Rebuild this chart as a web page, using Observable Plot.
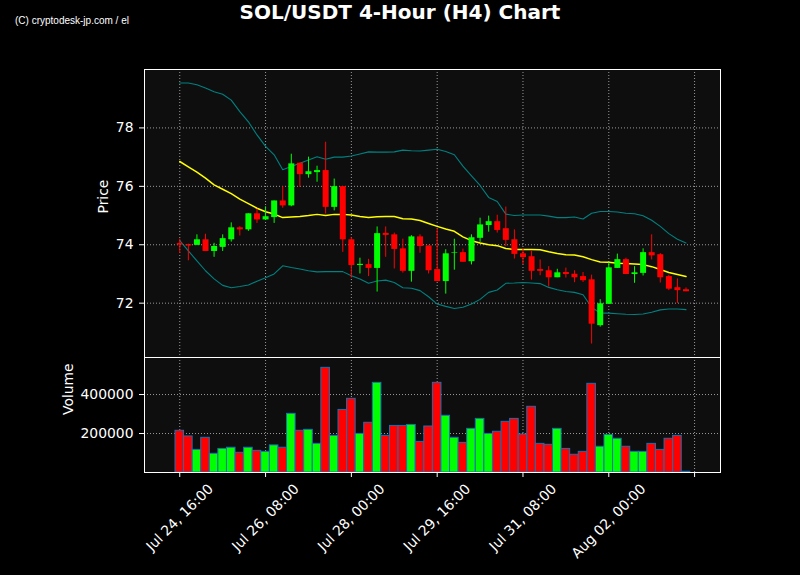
<!DOCTYPE html>
<html>
<head>
<meta charset="utf-8">
<script src="https://cdn.jsdelivr.net/npm/d3@7"></script>
<script src="https://cdn.jsdelivr.net/npm/@observablehq/plot@0.6"></script>
<style>
  html, body { margin: 0; padding: 0; background: #000; }
  #wrap { position: relative; width: 800px; height: 575px; background: #000; overflow: hidden; }
  #wrap svg { position: absolute; left: 0; }
  #title { position: absolute; left: 0; top: 1.8px; width: 800px; text-align: center; color: #fff;
           font: bold 20px/20px "DejaVu Sans", sans-serif; }
  #copy { position: absolute; left: 15px; top: 15.5px; color: #fff; font: 10px/10px "Liberation Sans", Arial, sans-serif; white-space: nowrap; }
</style>
</head>
<body>
<div id="wrap">
  <div id="copy">(C) cryptodesk-jp.com / el</div>
  <div id="title">SOL/USDT 4-Hour (H4) Chart</div>
</div>
<script>
// ---- data (4-hour candles, starting Jul 24 16:00) ----
const startTime = "2025-07-24T16:00:00Z";
const open  = [74.04, 74.00, 73.98, 74.17, 73.77, 73.91, 74.17, 74.58, 74.51, 75.06, 74.85, 74.93, 75.50, 75.33, 76.79, 76.40, 76.47, 76.54, 75.28, 75.99,
               74.17, 73.29, 73.32, 73.19, 74.39, 74.34, 73.86, 73.09, 74.27, 73.96, 73.15, 72.74, 73.71, 73.73, 73.42, 74.22, 74.66, 74.79, 74.55, 74.17,
               73.69, 73.59, 73.15, 73.11, 72.87, 73.05, 72.99, 72.91, 72.80, 71.23, 71.96, 73.19, 73.49, 72.98, 73.02, 73.73, 73.66, 72.91, 72.53, 72.46];
const high  = [74.19, 74.02, 74.34, 74.36, 74.05, 74.34, 74.75, 74.62, 75.06, 75.22, 75.30, 75.50, 75.99, 77.10, 76.79, 77.00, 76.69, 77.51, 76.25, 75.99,
               74.24, 73.54, 73.50, 74.61, 74.61, 74.40, 74.19, 74.31, 74.34, 73.96, 74.54, 73.83, 74.19, 73.85, 74.34, 74.91, 74.98, 75.01, 75.29, 74.51,
               73.85, 73.79, 73.48, 73.25, 73.16, 73.20, 73.11, 73.05, 72.96, 72.12, 73.38, 73.68, 73.54, 73.25, 73.86, 74.34, 73.70, 72.95, 72.83, 72.52];
const low   = [73.70, 73.45, 73.98, 73.77, 73.57, 73.77, 74.09, 74.30, 74.46, 74.73, 74.83, 74.73, 75.25, 75.30, 75.96, 76.28, 76.14, 75.05, 75.16, 73.74,
               72.86, 73.00, 72.91, 72.38, 73.57, 73.17, 73.03, 72.72, 73.71, 73.00, 72.74, 72.31, 73.13, 73.40, 73.31, 74.08, 74.43, 74.40, 73.94, 73.51,
               73.32, 72.79, 72.94, 72.55, 72.87, 72.86, 72.70, 72.71, 70.60, 71.18, 71.96, 73.19, 72.98, 72.68, 72.93, 73.48, 72.69, 72.43, 71.99, 72.39];
const close = [73.99, 73.96, 74.17, 73.77, 73.94, 74.21, 74.58, 74.51, 75.06, 74.85, 74.96, 75.50, 75.33, 76.77, 76.40, 76.50, 76.54, 75.28, 75.99, 74.17,
               73.29, 73.33, 73.19, 74.38, 74.32, 73.84, 73.09, 74.27, 73.94, 73.11, 72.74, 73.69, 73.73, 73.40, 74.24, 74.68, 74.79, 74.49, 74.15, 73.67,
               73.56, 73.09, 73.09, 72.87, 73.04, 72.98, 72.87, 72.77, 71.28, 71.98, 73.21, 73.49, 72.98, 73.04, 73.73, 73.62, 72.87, 72.48, 72.43, 72.39];
const volume = [214000, 185000, 116000, 178000, 96000, 121000, 127000, 101000, 127000, 111000, 106000, 139000, 127000, 301000, 214000, 219000, 147000, 537000, 188000, 321000,
                378000, 198000, 255000, 460000, 188000, 239000, 239000, 244000, 157000, 236000, 460000, 291000, 178000, 152000, 224000, 275000, 198000, 209000, 260000, 275000,
                195000, 337000, 147000, 142000, 224000, 121000, 91000, 106000, 455000, 132000, 193000, 173000, 132000, 106000, 106000, 147000, 116000, 173000, 188000, 4000];
const sma   = [76.85, 76.67, 76.49, 76.28, 76.05, 75.90, 75.75, 75.56, 75.41, 75.25, 75.13, 75.05, 74.93, 74.95, 74.97, 75.00, 75.04, 75.00, 75.04, 75.04,
               75.02, 74.97, 74.93, 74.96, 74.97, 74.97, 74.89, 74.88, 74.83, 74.73, 74.63, 74.54, 74.46, 74.27, 74.14, 74.06, 74.00, 73.97, 73.87, 73.84,
               73.84, 73.84, 73.83, 73.76, 73.70, 73.66, 73.65, 73.59, 73.49, 73.41, 73.40, 73.37, 73.36, 73.34, 73.32, 73.25, 73.15, 73.05, 72.98, 72.91];
const upper = [79.54, 79.54, 79.48, 79.37, 79.24, 79.15, 78.95, 78.56, 78.21, 77.76, 77.37, 77.08, 76.57, 76.68, 76.79, 76.90, 77.01, 76.93, 77.00, 77.00,
               77.04, 77.11, 77.18, 77.17, 77.17, 77.18, 77.24, 77.22, 77.21, 77.24, 77.27, 77.19, 77.08, 76.69, 76.36, 76.03, 75.62, 75.48, 75.05, 75.00,
               75.02, 75.02, 75.02, 74.98, 74.93, 74.93, 74.95, 74.88, 75.08, 75.14, 75.14, 75.12, 75.08, 75.06, 74.99, 74.84, 74.63, 74.38, 74.19, 74.06];
const lower = [74.14, 73.79, 73.45, 73.11, 72.83, 72.61, 72.53, 72.57, 72.62, 72.75, 72.87, 73.00, 73.28, 73.22, 73.17, 73.11, 73.07, 73.08, 73.08, 73.08,
               72.94, 72.83, 72.68, 72.76, 72.79, 72.71, 72.53, 72.51, 72.43, 72.22, 71.97, 71.89, 71.82, 71.86, 71.97, 72.13, 72.37, 72.45, 72.68, 72.69,
               72.71, 72.69, 72.67, 72.54, 72.46, 72.40, 72.37, 72.29, 71.86, 71.66, 71.66, 71.64, 71.62, 71.61, 71.63, 71.69, 71.77, 71.80, 71.80, 71.78];
const tickTimes = ["2025-07-24T16:00:00Z", "2025-07-26T08:00:00Z", "2025-07-28T00:00:00Z", "2025-07-29T16:00:00Z",
                   "2025-07-31T08:00:00Z", "2025-08-02T00:00:00Z", "2025-08-03T16:00:00Z"];
const tickLabels = ["Jul 24, 16:00", "Jul 26, 08:00", "Jul 28, 00:00", "Jul 29, 16:00", "Jul 31, 08:00", "Aug 02, 00:00", ""];
const priceTicks = [72, 74, 76, 78];
const volumeTicks = [200000, 400000];

// ---- build rows ----
const H4 = 4 * 3600 * 1000;
const t0 = new Date(startTime).getTime();
const rows = open.map((o, i) => ({
  date: new Date(t0 + i * H4),
  open: o, high: high[i], low: low[i], close: close[i], volume: volume[i],
  sma: sma[i], upper: upper[i], lower: lower[i],
  color: close[i] >= o ? "#00ff00" : "#ff0000"
}));
const ticks = tickTimes.map(s => new Date(s));
const xDomain = [new Date(t0 - 4.11 * H4), new Date(t0 + 63.02 * H4)];

const FONT = "DejaVu Sans";
const FS = 13.9;
const gridStyle = { stroke: "#9a9a9a", strokeOpacity: 1, strokeWidth: 1, strokeDasharray: "1,2" };
const common = {
  width: 800, marginLeft: 144, marginRight: 80,
  style: { background: "transparent", color: "white", fontFamily: FONT, fontSize: FS + "px", overflow: "visible" }
};

// ---- price panel ----
const price = Plot.plot({
  ...common,
  height: 358, marginTop: 69, marginBottom: 1,
  x: { type: "utc", domain: xDomain, axis: null },
  y: { domain: [70.14, 80.0], axis: null },
  marks: [
    Plot.frame({ fill: "#0e0e0e" }),
    Plot.gridX(ticks, gridStyle),
    Plot.gridY(priceTicks, gridStyle),
    Plot.line(rows, { x: "date", y: "upper", stroke: "#008080", strokeWidth: 1.1 }),
    Plot.line(rows, { x: "date", y: "lower", stroke: "#008080", strokeWidth: 1.1 }),
    Plot.line(rows, { x: "date", y: "sma", stroke: "#ffff00", strokeWidth: 1.5 }),
    Plot.ruleX(rows, { x: "date", y1: "low", y2: "high", stroke: "color", strokeWidth: 1 }),
    Plot.ruleX(rows, { x: "date", y1: "open", y2: "close", stroke: "color", strokeWidth: 6 }),
    Plot.axisY({ ticks: priceTicks, tickSize: 5, tickPadding: 6, fontSize: FS, label: null }),
    Plot.text(["Price"], { text: d => d, frameAnchor: "left", dx: -41, rotate: -90, fill: "white", fontSize: FS }),
    Plot.frame({ stroke: "white", strokeWidth: 1 })
  ]
});
price.style.top = "0px";

// ---- label offsets for rotated tick labels ----
const ctx = document.createElement("canvas").getContext("2d");
ctx.font = FS + "px " + FONT;
const labelMarks = ticks.map((d, i) => {
  const t = tickLabels[i];
  if (!t) return null;
  const L = ctx.measureText(t).width;
  const off = 10.5 + (L + 10) / 2.828;
  return Plot.text([d], { x: d => d, text: () => t, frameAnchor: "bottom", dy: off, rotate: -45,
    textAnchor: "middle", lineAnchor: "middle", fill: "white", fontSize: FS });
}).filter(Boolean);

// ---- volume panel ----
const vol = Plot.plot({
  ...common,
  height: 225, marginTop: 7, marginBottom: 103,
  x: { type: "utc", domain: xDomain, axis: null },
  y: { domain: [0, 590000], axis: null },
  marks: [
    Plot.frame({ fill: "#0e0e0e" }),
    Plot.gridX(ticks, gridStyle),
    Plot.gridY(volumeTicks, gridStyle),
    Plot.rect(rows, {
      x1: d => new Date(+d.date - H4 / 2), x2: d => new Date(+d.date + H4 / 2),
      y1: 0, y2: "volume", fill: "color", stroke: "#1f6fb0", strokeWidth: 1
    }),
    Plot.axisY({ ticks: volumeTicks, tickFormat: d => String(d), tickSize: 5, tickPadding: 6, fontSize: FS, label: null }),
    Plot.axisX({ ticks: ticks, tickSize: 5, tickFormat: () => "", label: null }),
    ...labelMarks,
    Plot.text(["Volume"], { text: d => d, frameAnchor: "left", dx: -76, rotate: -90, fill: "white", fontSize: FS }),
    Plot.frame({ stroke: "white", strokeWidth: 1 })
  ]
});
vol.style.top = "350px";

const wrap = document.getElementById("wrap");
wrap.appendChild(price);
wrap.appendChild(vol);
</script>
</body>
</html>
